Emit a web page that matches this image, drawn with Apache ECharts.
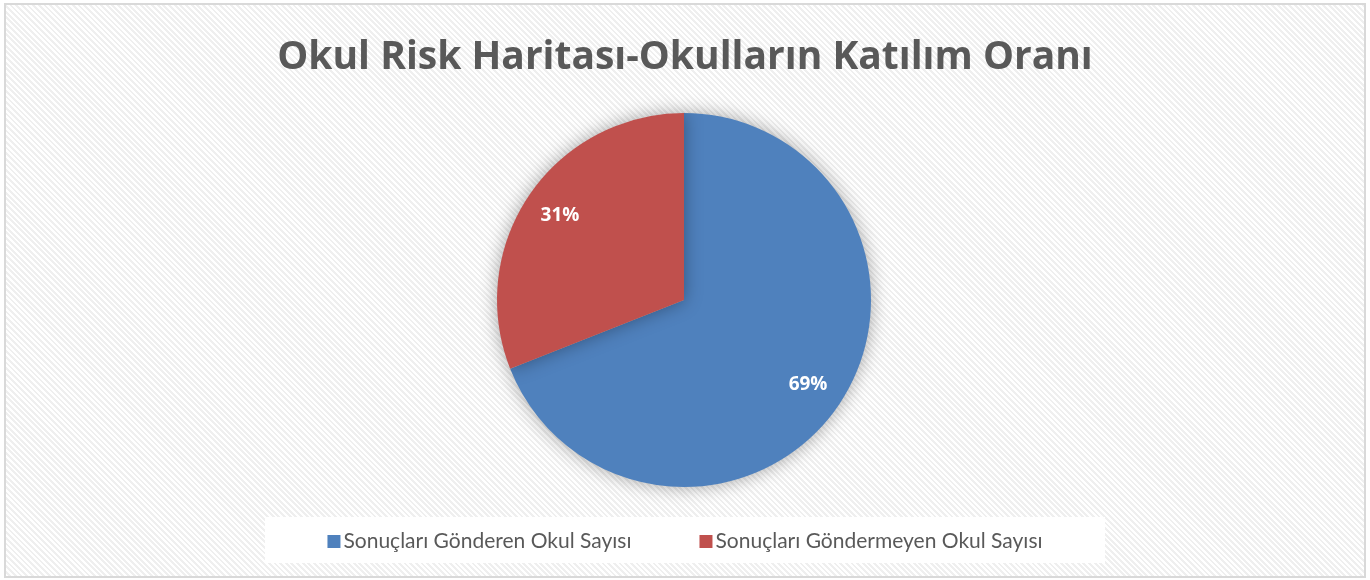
<!DOCTYPE html>
<html>
<head>
<meta charset="utf-8">
<script src="https://cdn.jsdelivr.net/npm/echarts@6/dist/echarts.min.js"></script>
<style>
  html, body { margin: 0; padding: 0; background: #fff; }
  #frame {
    position: absolute; left: 4px; top: 3px; width: 1362px; height: 575px;
    box-sizing: border-box; border: 2px solid #d9d9d9;
    background: repeating-linear-gradient(45deg, #ffffff 0 2px, #efefef 2px 4px);
  }
  #main { position: absolute; left: 0; top: 0; width: 1370px; height: 580px; }
</style>
</head>
<body>
<div id="frame"></div>
<div id="main"></div>
<script>
const titleText = 'Okul Risk Haritası-Okulların Katılım Oranı';
const categories = ['Sonuçları Gönderen Okul Sayısı', 'Sonuçları Göndermeyen Okul Sayısı'];
const values = [69, 31];
const colors = ['#4f81bd', '#c0504d'];

window.onload = function () {
  const chart = echarts.init(document.getElementById('main'), null, { renderer: 'canvas' });
  const pieData = categories.map((name, i) => ({ name: name, value: values[i], itemStyle: { color: colors[i] } }));
  const option = {
    backgroundColor: 'transparent',
    animation: false,
    title: {
      text: titleText,
      left: 'center',
      top: 33,
      textStyle: { fontFamily: 'Open Sans', fontWeight: 'bold', fontSize: 39, color: '#595959' }
    },
    graphic: [{
      type: 'rect', z: 0,
      shape: { x: 265, y: 517, width: 840, height: 46 },
      style: { fill: '#ffffff' }
    }],
    legend: {
      data: categories,
      left: 'center',
      top: 526,
      icon: 'rect',
      itemWidth: 13,
      itemHeight: 13,
      itemGap: 68,
      textStyle: { fontFamily: 'Lato', fontSize: 21, color: '#595959', padding: [0, 0, 0, -2] }
    },
    series: [
      {
        type: 'pie',
        center: [684, 300],
        radius: [0, 187],
        startAngle: 90,
        clockwise: true,
        data: pieData,
        label: { show: false },
        labelLine: { show: false },
        itemStyle: { shadowBlur: 18, shadowColor: 'rgba(0,0,0,0.35)' },
        emphasis: { disabled: true }
      },
      {
        // transparent ring only used to place the percentage labels
        type: 'pie',
        center: [684, 300],
        radius: [107, 187],
        startAngle: 90,
        clockwise: true,
        silent: true,
        legendHoverLink: false,
        data: categories.map((name, i) => ({ name: name, value: values[i], itemStyle: { color: 'rgba(0,0,0,0)' } })),
        label: {
          show: true,
          position: 'inside',
          formatter: p => Math.round(p.percent) + '%',
          fontFamily: 'Open Sans',
          fontWeight: 'bold',
          fontSize: 19,
          color: '#ffffff'
        },
        labelLine: { show: false },
        emphasis: { disabled: true }
      }
    ]
  };
  chart.setOption(option);
};
</script>
</body>
</html>
